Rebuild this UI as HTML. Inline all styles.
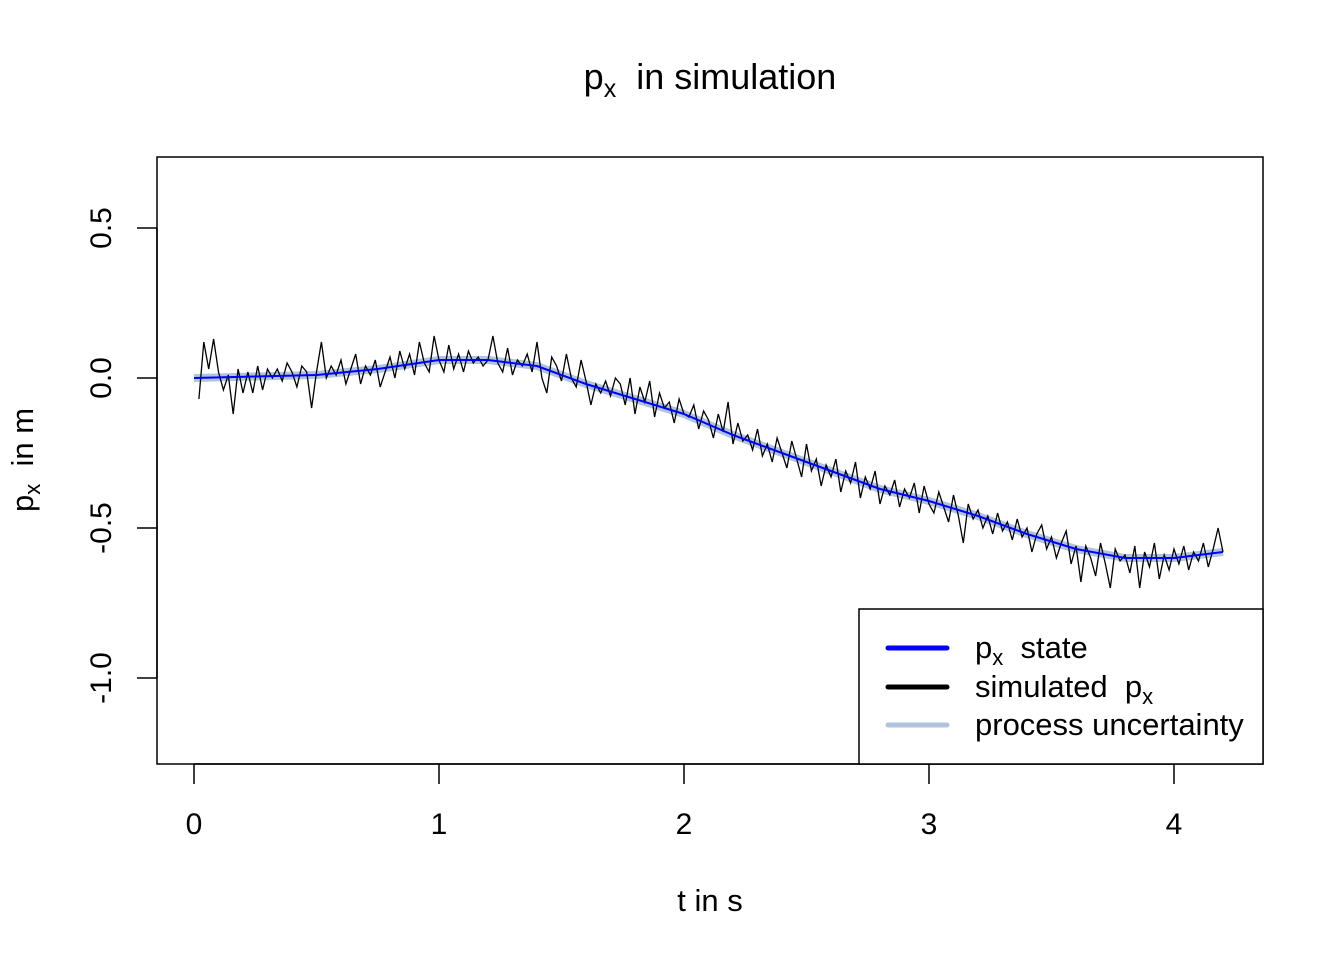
<!DOCTYPE html>
<html><head><meta charset="utf-8"><style>
html,body{margin:0;padding:0;background:#fff}
svg{display:block;font-family:"Liberation Sans",Arial,sans-serif}
</style></head><body>
<svg id="chart" width="1344" height="960">
<text x="710" y="89" font-size="36" text-anchor="middle">p<tspan font-size="25" dy="8">x</tspan><tspan dy="-8">&#160; in simulation</tspan></text>
<rect x="157" y="157" width="1106" height="607" fill="none" stroke="#000" stroke-width="1.5"/>
<g id="xaxis"></g>
<g id="yaxis"></g>
<text x="710" y="911" font-size="31" text-anchor="middle">t in s</text>
<text transform="translate(33,460) rotate(-90)" font-size="31" text-anchor="middle">p<tspan font-size="22" dy="7">x</tspan><tspan dy="-7">&#160; in m</tspan></text>
<g id="series"></g>
<g>
<rect x="859" y="609" width="404" height="155" fill="#fff" stroke="#000" stroke-width="1.5"/>
<line x1="888" y1="648" x2="947" y2="648" stroke="#0000ff" stroke-width="5" stroke-linecap="round"/>
<text x="975" y="658" font-size="31">p<tspan font-size="22" dy="7">x</tspan><tspan dy="-7">&#160; state</tspan></text>
<line x1="888" y1="687" x2="947" y2="687" stroke="#000" stroke-width="5" stroke-linecap="round"/>
<text x="975" y="697" font-size="31">simulated&#160; p<tspan font-size="22" dy="7">x</tspan></text>
<line x1="888" y1="725" x2="947" y2="725" stroke="#b0c4de" stroke-width="5" stroke-linecap="round"/>
<text x="975" y="735" font-size="31">process uncertainty</text>
</g>
</svg>
<script>
const xTicks=[0,1,2,3,4];
const yTicks=[0.5,0.0,-0.5,-1.0];
const yTickLabels=["0.5","0.0","-0.5","-1.0"];
const stateT=[0,0.25,0.5,0.75,1.0,1.2,1.4,1.6,1.8,2.0,2.2,2.4,2.6,2.8,3.0,3.2,3.4,3.6,3.8,4.0,4.2];
const stateV=[0,0.005,0.01,0.03,0.06,0.06,0.04,-0.02,-0.07,-0.12,-0.19,-0.25,-0.31,-0.37,-0.41,-0.46,-0.52,-0.57,-0.6,-0.6,-0.58];
const simStart=0.02, simStep=0.02;
const simV=[-0.07,0.12,0.03,0.13,0.02,-0.04,0.01,-0.12,0.03,-0.05,
0.02,-0.05,0.04,-0.04,0.03,0.00,0.03,-0.01,0.05,0.02,
-0.03,0.04,0.02,-0.10,0.02,0.12,0.00,0.04,0.01,0.06,
-0.02,0.03,0.08,-0.02,0.04,0.01,0.06,-0.03,0.02,0.07,
0.00,0.09,0.03,0.08,0.01,0.12,0.05,0.02,0.14,0.06,
0.02,0.11,0.03,0.08,0.02,0.09,0.05,0.07,0.04,0.06,
0.14,0.05,0.02,0.10,0.01,0.06,0.04,0.08,0.02,0.12,
0.00,-0.05,0.07,0.04,-0.01,0.08,0.00,-0.03,0.06,-0.01,
-0.09,-0.02,-0.05,-0.01,-0.06,0.00,-0.02,-0.09,0.00,-0.12,
-0.03,-0.08,-0.01,-0.13,-0.05,-0.10,-0.08,-0.15,-0.07,-0.12,
-0.13,-0.09,-0.17,-0.11,-0.14,-0.20,-0.12,-0.18,-0.08,-0.22,
-0.15,-0.21,-0.19,-0.24,-0.17,-0.26,-0.22,-0.28,-0.20,-0.25,
-0.30,-0.21,-0.27,-0.33,-0.22,-0.31,-0.27,-0.36,-0.29,-0.33,
-0.27,-0.38,-0.31,-0.35,-0.28,-0.40,-0.33,-0.37,-0.31,-0.42,
-0.36,-0.39,-0.34,-0.43,-0.37,-0.40,-0.35,-0.45,-0.36,-0.42,
-0.45,-0.38,-0.43,-0.48,-0.39,-0.46,-0.55,-0.42,-0.47,-0.44,
-0.50,-0.46,-0.52,-0.45,-0.51,-0.48,-0.54,-0.47,-0.53,-0.50,
-0.58,-0.52,-0.49,-0.57,-0.53,-0.60,-0.55,-0.51,-0.62,-0.56,
-0.68,-0.56,-0.60,-0.66,-0.55,-0.62,-0.70,-0.57,-0.61,-0.59,
-0.65,-0.56,-0.70,-0.58,-0.63,-0.55,-0.67,-0.59,-0.64,-0.57,
-0.62,-0.56,-0.64,-0.58,-0.61,-0.55,-0.63,-0.57,-0.50,-0.58];
const NS="http://www.w3.org/2000/svg";
function xs(t){return 194+245*t;}
function ys(v){return 378-300*v;}
function mk(tag,attrs,parent){const e=document.createElementNS(NS,tag);for(const k in attrs)e.setAttribute(k,attrs[k]);parent.appendChild(e);return e;}
const xg=document.getElementById('xaxis'),yg=document.getElementById('yaxis'),sg=document.getElementById('series');
mk('line',{x1:xs(xTicks[0]),x2:xs(xTicks[xTicks.length-1]),y1:764,y2:764,stroke:'#000','stroke-width':1.5},xg);
xTicks.forEach(t=>{
 const l=mk('line',{x1:xs(t),x2:xs(t),y1:764,y2:784,stroke:'#000','stroke-width':1.5},xg);
 
 
 const tx=mk('text',{x:xs(t),y:834,'font-size':30,'text-anchor':'middle'},xg);tx.textContent=t;
 
 
});
mk('line',{x1:157,x2:157,y1:ys(yTicks[0]),y2:ys(yTicks[yTicks.length-1]),stroke:'#000','stroke-width':1.5},yg);
yTicks.forEach((v,i)=>{
 const l=mk('line',{x1:137,x2:157,y1:ys(v),y2:ys(v),stroke:'#000','stroke-width':1.5},yg);
 
 
 const tx=mk('text',{transform:`translate(111,${ys(v)}) rotate(-90)`,'font-size':30,'text-anchor':'middle'},yg);tx.textContent=yTickLabels[i];
 
 
});
const statePts=stateT.map((t,i)=>xs(t)+','+ys(stateV[i])).join(' ');
const band=mk('polyline',{points:statePts,fill:'none',stroke:'#b0c4de','stroke-width':8,'stroke-linejoin':'round'},sg);


const sim=mk('polyline',{points:simV.map((v,i)=>xs(simStart+i*simStep)+','+ys(v)).join(' '),fill:'none',stroke:'#000','stroke-width':1.3},sg);


const st=mk('polyline',{points:statePts,fill:'none',stroke:'#0000ff','stroke-width':2,'stroke-linejoin':'round'},sg);


</script>
</body></html>
